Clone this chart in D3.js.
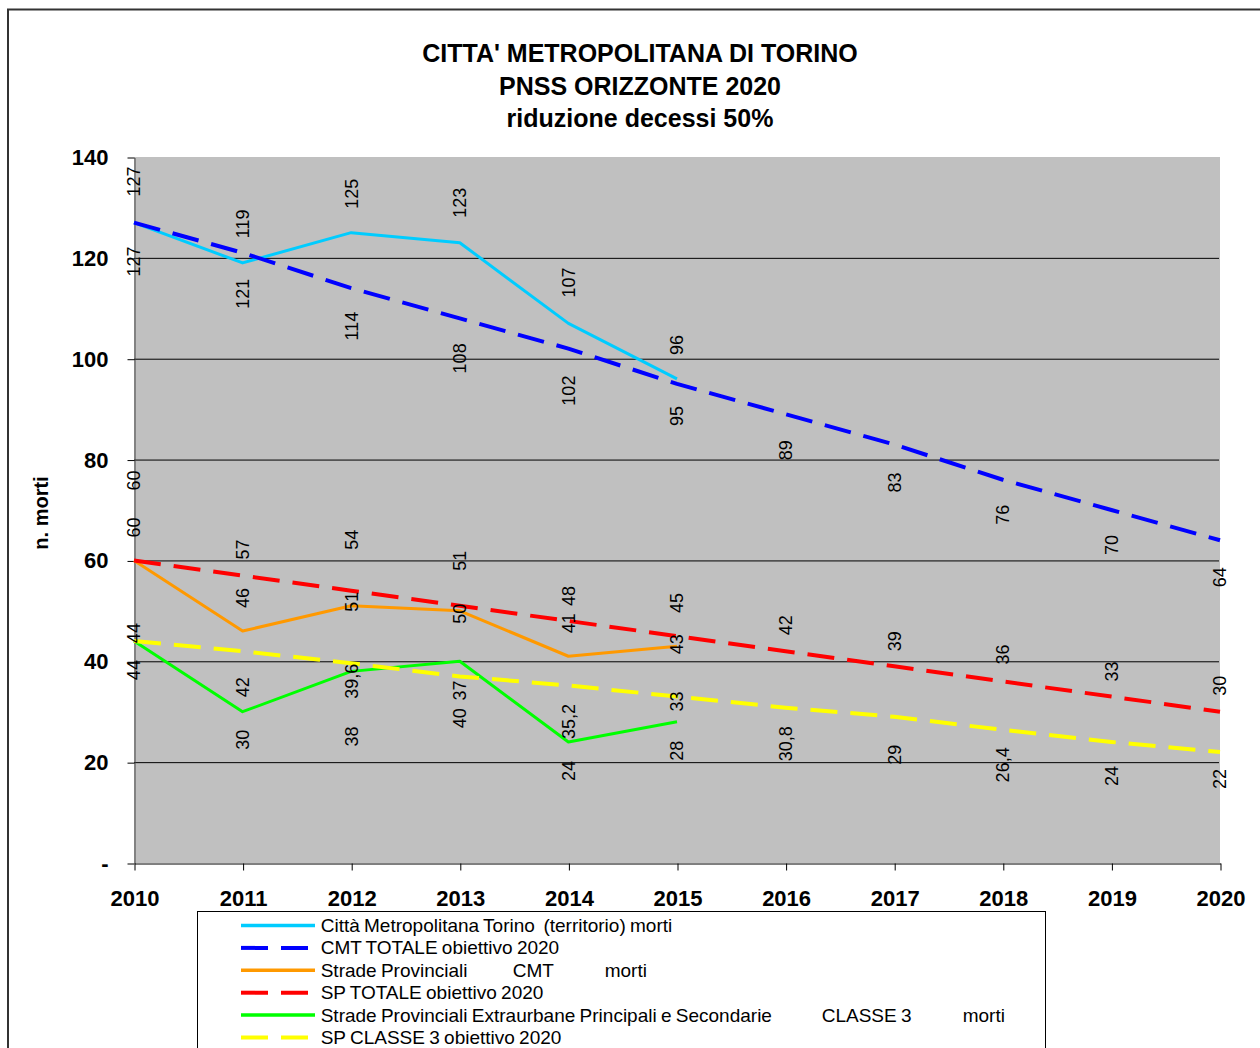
<!DOCTYPE html>
<html lang="it">

<head>
    <meta charset="UTF-8">
    <title>Città Metropolitana di Torino - PNSS orizzonte 2020</title>
    <script src="https://d3js.org/d3.v7.min.js"></script>
    <style>
        body { margin: 0; background: #fff; }
        svg { display: block; font-family: "Liberation Sans", Arial, sans-serif; }
        .label { font-size: 18px; fill: #000; }
    </style>
</head>

<body>

    <main></main>

    <script>
        // data
        var years = [2010, 2011, 2012, 2013, 2014, 2015, 2016, 2017, 2018, 2019, 2020];
        var cmtMorti = [127, 119, 125, 123, 107, 96];
        var cmtObiettivo = [127, 121, 114, 108, 102, 95, 89, 83, 76, 70, 64];
        var spMorti = [60, 46, 51, 50, 41, 43];
        var spObiettivo = [60, 57, 54, 51, 48, 45, 42, 39, 36, 33, 30];
        var classe3Morti = [44, 30, 38, 40, 24, 28];
        var classe3Obiettivo = [44, 42, 39.6, 37, 35.2, 33, 30.8, 29, 26.4, 24, 22];
        var yTicks = [0, 20, 40, 60, 80, 100, 120, 140];
        var titleLines = ["CITTA' METROPOLITANA DI TORINO", "PNSS ORIZZONTE 2020", "riduzione decessi 50%"];
        var legendLabels = [
            ["Città Metropolitana Torino  (territorio) morti"],
            ["CMT TOTALE obiettivo 2020"],
            ["Strade Provinciali", "CMT", "morti"],
            ["SP TOTALE obiettivo 2020"],
            ["Strade Provinciali Extraurbane Principali e Secondarie", "CLASSE 3", "morti"],
            ["SP CLASSE 3 obiettivo 2020"]
        ];

        // where each data label sits, relative to its point (px, label centre)
        var labelShift = [
            [-41, -39, -39, -40, -41, -34],
            [39, 41, 38, 40, 42, 32, 36, 38, 35, 35, 37],
            [-33, -33, -4, 3, -33, -2],
            [-80, -26, -51, -45, -25, -33, -26, -25, -27, -25, -26],
            [29, 28, 65, 57, 29, 29],
            [-8, 36, 18, 14, 36, 5, 36, 38, 35, 34, 27]
        ];
        // gap between legend words (px from text start)
        var legendGaps = [[0], [0], [0, 192, 284], [0], [0, 501, 642], [0]];

        var series = [
            { values: cmtMorti, color: '#00ccff', dashed: false },
            { values: cmtObiettivo, color: '#0000ff', dashed: true },
            { values: spMorti, color: '#ff9900', dashed: false },
            { values: spObiettivo, color: '#ff0000', dashed: true },
            { values: classe3Morti, color: '#00ff00', dashed: false },
            { values: classe3Obiettivo, color: '#ffff00', dashed: true }
        ];

        var svg = d3.select('main')
            .append('svg')
            .attr('width', 1260)
            .attr('height', 1048);

        // outer frame
        svg.append('rect')
            .attr('x', 8)
            .attr('y', 9.5)
            .attr('width', 1400)
            .attr('height', 1200)
            .attr('fill', 'none')
            .attr('stroke', '#333')
            .attr('stroke-width', 2);

        svg.append('g')
            .selectAll('text')
            .data(titleLines)
            .enter()
            .append('text')
            .attr('x', 640)
            .attr('y', (d, i) => 62 + i * 32.5)
            .attr('text-anchor', 'middle')
            .style('font-size', '25px')
            .style('font-weight', 'bold')
            .text(d => d);

        var x = d3.scaleLinear()
            .domain([2010, 2020])
            .range([134, 1220]);

        var y = d3.scaleLinear()
            .domain([0, 140])
            .range([863, 157]);

        svg.append('rect')
            .attr('x', x(2010))
            .attr('y', y(140))
            .attr('width', x(2020) - x(2010))
            .attr('height', y(0) - y(140))
            .attr('fill', '#c0c0c0');

        svg.append('g')
            .selectAll('line')
            .data(yTicks.filter(d => d > 0 && d < 140))
            .enter()
            .append('line')
            .attr('x1', x(2010))
            .attr('x2', x(2020) - 1)
            .attr('y1', d => y(d) + 0.5)
            .attr('y2', d => y(d) + 0.5)
            .attr('stroke', '#000')
            .attr('stroke-width', 1);

        var yAxis = svg.append('g')
            .attr('transform', `translate(${x(2010) + 0.5}, 0.5)`)
            .call(d3.axisLeft(y)
                .tickValues(yTicks)
                .tickSize(7)
                .tickSizeOuter(0)
                .tickPadding(19)
                .tickFormat(d => d === 0 ? '-' : d));

        var xAxis = svg.append('g')
            .attr('transform', `translate(0.5, ${y(0) + 0.5})`)
            .call(d3.axisBottom(x)
                .tickValues(years)
                .tickSize(7)
                .tickSizeOuter(0)
                .tickPadding(20)
                .tickFormat(d3.format('d')));

        [yAxis, xAxis].forEach(function (axis) {
            axis.selectAll('text')
                .attr('fill', '#000')
                .style('font-family', '"Liberation Sans", Arial, sans-serif')
                .style('font-size', '22px')
                .style('font-weight', 'bold');
            axis.selectAll('line').attr('stroke', '#000');
        });
        yAxis.select('.domain').attr('stroke', '#444');
        xAxis.select('.domain').attr('stroke', '#000');

        svg.append('text')
            .attr('transform', 'translate(48, 513) rotate(-90)')
            .attr('text-anchor', 'middle')
            .style('font-size', '20px')
            .style('font-weight', 'bold')
            .text('n. morti');

        var line = d3.line()
            .x((d, i) => x(years[i]))
            .y(d => y(d));

        series.forEach(function (s) {
            svg.append('path')
                .datum(s.values)
                .attr('d', line)
                .attr('fill', 'none')
                .attr('stroke', s.color)
                .attr('stroke-width', s.dashed ? 4 : 3)
                .attr('stroke-dasharray', s.dashed ? '27,13' : null)
                .attr('stroke-linejoin', 'round');
        });

        series.forEach(function (s, k) {
            svg.append('g')
                .selectAll('text')
                .data(s.values)
                .enter()
                .append('text')
                .attr('class', 'label')
                .attr('transform', (d, i) => `translate(${x(years[i])}, ${y(d) + labelShift[k][i]}) rotate(-90)`)
                .attr('text-anchor', 'middle')
                .attr('dy', '0.36em')
                .text(d => String(d).replace('.', ','));
        });

        // legend
        var legend = svg.append('g');

        legend.append('rect')
            .attr('x', 197.5)
            .attr('y', 911.5)
            .attr('width', 848)
            .attr('height', 200)
            .attr('fill', '#fff')
            .attr('stroke', '#000');

        var items = legend.selectAll('g.item')
            .data(series)
            .enter()
            .append('g')
            .attr('class', 'item')
            .attr('transform', (d, i) => `translate(0, ${925.5 + i * 22.4})`);

        items.append('line')
            .attr('x1', 241)
            .attr('x2', 315)
            .attr('stroke', d => d.color)
            .attr('stroke-width', d => d.dashed ? 4 : 3.5)
            .attr('stroke-dasharray', d => d.dashed ? '27,13' : null);

        items.each(function (d, i) {
            var t = d3.select(this).append('text')
                .attr('y', 6.5)
                .style('font-size', '19px')
                .style('word-spacing', '-1px')
                .style('white-space', 'pre');
            legendLabels[i].forEach(function (word, j) {
                t.append('tspan')
                    .attr('x', 320.7 + legendGaps[i][j])
                    .text(word);
            });
        });
    </script>
</body>

</html>
